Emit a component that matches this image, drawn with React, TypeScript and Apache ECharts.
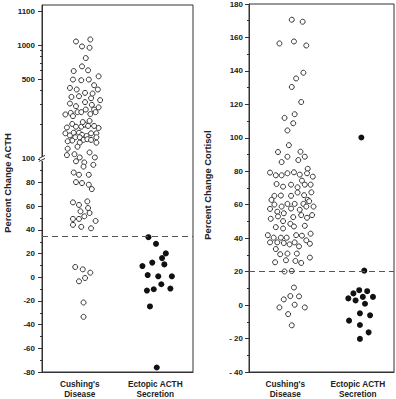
import React, { useEffect, useRef } from "react";
import * as echarts from "echarts";

const categories = ["Cushing's\nDisease", "Ectopic ACTH\nSecretion"];

// [horizontal jitter position (category units: 0..2), percent change]
const acthCushing: [number, number][] = [
  [0.45, 1011], [0.64, 1017], [0.53, 976], [0.63, 951], [0.58, 771], [0.42, 593], [0.53, 652], [0.61, 602],
  [0.41, 499], [0.52, 492], [0.62, 499], [0.75, 533], [0.37, 421], [0.46, 408], [0.69, 445], [0.74, 408],
  [0.39, 351], [0.49, 356], [0.57, 381], [0.65, 342], [0.77, 329], [0.67, 376], [0.37, 307], [0.45, 291],
  [0.57, 316], [0.66, 299], [0.75, 284], [0.69, 272], [0.31, 246], [0.38, 254], [0.47, 258], [0.52, 258],
  [0.58, 272], [0.64, 248], [0.71, 258], [0.41, 238], [0.33, 189], [0.40, 203], [0.45, 192], [0.52, 192],
  [0.57, 200], [0.63, 216], [0.61, 195], [0.69, 195], [0.75, 187], [0.54, 211], [0.31, 168], [0.37, 161],
  [0.42, 170], [0.49, 170], [0.53, 163], [0.59, 159], [0.65, 168], [0.72, 168], [0.72, 155], [0.44, 155],
  [0.50, 155], [0.40, 145], [0.34, 143], [0.55, 147], [0.60, 149], [0.65, 147], [0.72, 139], [0.50, 139],
  [0.47, 128], [0.34, 123], [0.33, 108], [0.43, 110], [0.50, 103], [0.63, 114], [0.70, 103], [0.45, 98],
  [0.56, 97], [0.68, 95], [0.55, 93.5], [0.42, 88.5], [0.49, 86.6], [0.62, 86.6], [0.45, 80.4], [0.53, 79.6],
  [0.62, 78.2], [0.66, 74.5], [0.60, 64.1], [0.41, 63.3], [0.49, 61.1], [0.61, 58.5], [0.51, 55.7], [0.63, 54.3],
  [0.56, 51.5], [0.41, 49.3], [0.49, 49.3], [0.71, 47.6], [0.41, 44.3], [0.52, 42.6], [0.65, 41.4],
  [0.44, 8.7], [0.54, 6.7], [0.64, 3.9], [0.49, -3.4], [0.57, -0.6], [0.55, -21.3], [0.55, -33.4],
];

const acthEctopic: [number, number][] = [
  [1.41, 33.9], [1.51, 28.3], [1.64, 20.2], [1.59, 16.2], [1.46, 12.4], [1.62, 10.9], [1.33, 9.5], [1.40, 1.9],
  [1.54, 0.8], [1.72, 0.8], [1.58, -5.9], [1.39, -11.2], [1.48, -10.1], [1.70, -9.5], [1.43, -24.6], [1.52, -76.2],
];

const cortisolCushing: [number, number][] = [
  [0.59, 170.6], [0.74, 169.4], [0.42, 156.4], [0.62, 157.6], [0.79, 155.2], [0.75, 138.9], [0.65, 135.5],
  [0.59, 130.4], [0.72, 121.4], [0.63, 114.1], [0.49, 111.9], [0.61, 108.7], [0.53, 104.4], [0.55, 95.6],
  [0.40, 91.5], [0.71, 91.7], [0.53, 88.7], [0.77, 88.7], [0.45, 85.5], [0.68, 86.7], [0.81, 81.5],
  [0.29, 79.2], [0.37, 77.6], [0.45, 77.6], [0.53, 78.8], [0.62, 79.4], [0.70, 78], [0.80, 78.8], [0.88, 76.8],
  [0.73, 74.4], [0.38, 72.4], [0.47, 70.8], [0.58, 72], [0.67, 70.4], [0.77, 72], [0.85, 72], [0.67, 67.3],
  [0.86, 67.4], [0.35, 65.3], [0.44, 65.5], [0.58, 65.3], [0.76, 65.7], [0.31, 62.9], [0.81, 62.9],
  [0.35, 60.1], [0.45, 58.9], [0.53, 60.5], [0.63, 60.5], [0.75, 60.5], [0.83, 62.1], [0.29, 57.5], [0.39, 55.8],
  [0.48, 54.9], [0.58, 57.7], [0.70, 57], [0.79, 58.9], [0.89, 58.9], [0.30, 51.6], [0.40, 53], [0.47, 50.2],
  [0.61, 52.6], [0.72, 53.8], [0.80, 52.2], [0.87, 53.8], [0.37, 46.6], [0.47, 45.8], [0.57, 48.6], [0.62, 47],
  [0.77, 47.4], [0.85, 42.7], [0.26, 41.8], [0.34, 40.3], [0.44, 40.3], [0.52, 40.3], [0.65, 41.8], [0.73, 41.5],
  [0.79, 38.7], [0.29, 37.5], [0.39, 37.5], [0.48, 37.1], [0.56, 36.3], [0.63, 37.5], [0.69, 35.1], [0.84, 36.7],
  [0.37, 33.5], [0.43, 30.4], [0.53, 30.8], [0.66, 30.8], [0.84, 28.4], [0.36, 25.6], [0.51, 26.8], [0.64, 26.4],
  [0.72, 25.2], [0.49, 20.1], [0.59, 20.4],
  [0.62, 10.5], [0.48, 3.4], [0.57, 5.4], [0.69, 5.2], [0.42, -1.4], [0.63, 0.2], [0.77, -1.4], [0.54, -5.4], [0.59, -12.1],
];

const cortisolEctopic: [number, number][] = [
  [1.55, 100.2], [1.59, 20.6], [1.44, 7], [1.52, 8.9], [1.63, 8.3], [1.37, 4], [1.47, 2.8], [1.57, 4.9],
  [1.71, 4.9], [1.60, 0.8], [1.53, -4.9], [1.67, -6.1], [1.38, -9.3], [1.53, -11.9], [1.65, -16.3], [1.53, -20.2],
];

const acthTickLabels = [-80, -60, -40, -20, 0, 20, 40, 60, 80, 100, 500, 1000, 1100];
const acthMinorTicks = [-70, -50, -30, -10, 10, 30, 50, 70, 90, 200, 300, 400, 600, 700, 800, 900];
const acthThreshold = 35;
const cortisolThreshold = 20;
const cortisolRange = [-40, 180];

// broken ACTH axis: linear up to 100, logarithmic 100..1000, compressed above
function toDisplay(v: number): number {
  if (v <= 100) return v;
  if (v <= 1000) return 100 + 96 * Math.log10(v / 100);
  return 196 + (v - 1000) * 0.288;
}

const FONT = "'Liberation Sans', Arial, Helvetica, sans-serif";
const INK = "#222";

export default function App() {
  const ref = useRef<HTMLDivElement>(null);

  useEffect(() => {
    document.body.style.margin = "0";
    if (!ref.current) return;
    const chart = echarts.init(ref.current, null, { renderer: "svg" });

    const labelStyle = { fontSize: 8, fontWeight: "bold" as const, color: INK, fontFamily: FONT };
    const catLabel = {
      show: true,
      customValues: [0.5, 1.5],
      formatter: (v: number) => (v < 1 ? categories[0] : categories[1]),
      fontSize: 8.25,
      fontWeight: "bold" as const,
      color: INK,
      fontFamily: FONT,
      lineHeight: 9.5,
      margin: 8,
    };
    const acthLabelFor = (d: number) => {
      let best = acthTickLabels[0];
      let bd = Infinity;
      for (const t of acthTickLabels) {
        const dd = Math.abs(toDisplay(t) - d);
        if (dd < bd) { bd = dd; best = t; }
      }
      return String(best);
    };
    const dashed = (y: number) => ({
      silent: true,
      symbol: ["none", "none"],
      label: { show: false },
      lineStyle: { type: [6, 4], color: "#555", width: 1, opacity: 1 },
      data: [{ yAxis: y }],
    });
    const openCircle = { color: "#fff", borderColor: "#333", borderWidth: 1, opacity: 1 };
    const filled = { color: "#111", opacity: 1 };
    const xAxisBase = {
      type: "value", min: 0, max: 2, splitLine: { show: false }, axisTick: { show: false },
      axisLine: { show: true, onZero: false, lineStyle: { color: "#333" } }, axisLabel: catLabel,
    };

    chart.setOption({
      animation: false,
      grid: [
        { left: 42, top: 5, width: 151, height: 368, show: true, borderColor: "#333", borderWidth: 1 },
        { left: 249, top: 3, width: 145, height: 370, show: true, borderColor: "#333", borderWidth: 1 },
      ],
      xAxis: [
        { ...xAxisBase, gridIndex: 0 },
        { ...xAxisBase, gridIndex: 1 },
      ],
      yAxis: [
        {
          type: "value", gridIndex: 0, position: "left", min: -80, max: 230, splitLine: { show: false },
          axisLine: { show: true, onZero: false, lineStyle: { color: "#333" } },
          axisTick: { show: true, length: 4, customValues: acthTickLabels.map(toDisplay), lineStyle: { color: "#333" } },
          axisLabel: { ...labelStyle, margin: 7, customValues: acthTickLabels.map(toDisplay), formatter: acthLabelFor },
        },
        {
          type: "value", gridIndex: 0, position: "left", min: -80, max: 230, splitLine: { show: false },
          axisLine: { show: false, onZero: false },
          axisTick: { show: true, length: 2, customValues: acthMinorTicks.map(toDisplay), lineStyle: { color: "#333" } },
          axisLabel: { show: false },
        },
        {
          type: "value", gridIndex: 1, position: "left", min: cortisolRange[0], max: cortisolRange[1], interval: 20,
          splitLine: { show: false },
          axisLine: { show: true, onZero: false, lineStyle: { color: "#333" } },
          axisTick: { show: true, length: 4, lineStyle: { color: "#333" } },
          minorTick: { show: true, splitNumber: 2, length: 2, lineStyle: { color: "#333" } },
          axisLabel: { ...labelStyle, margin: 6, formatter: (v: number) => (v < 0 ? "- " + Math.abs(v) : String(v)) },
        },
      ],
      series: [
        { type: "scatter", xAxisIndex: 0, yAxisIndex: 0, symbolSize: 5, itemStyle: openCircle,
          data: acthCushing.map(([x, v]) => [x, toDisplay(v)]) },
        { type: "scatter", xAxisIndex: 0, yAxisIndex: 0, symbolSize: 6, itemStyle: filled,
          data: acthEctopic.map(([x, v]) => [x, toDisplay(v)]), markLine: dashed(toDisplay(acthThreshold)) },
        { type: "scatter", xAxisIndex: 1, yAxisIndex: 2, symbolSize: 5, itemStyle: openCircle,
          data: cortisolCushing },
        { type: "scatter", xAxisIndex: 1, yAxisIndex: 2, symbolSize: 6, itemStyle: filled,
          data: cortisolEctopic, markLine: dashed(cortisolThreshold) },
      ],
    });

    const bx = chart.convertToPixel({ xAxisIndex: 0 }, 0) as number;
    const by = chart.convertToPixel({ yAxisIndex: 0 }, toDisplay(100)) as number;
    chart.setOption({
      graphic: [
        { type: "text", x: 7, y: 183, rotation: Math.PI / 2,
          style: { text: "Percent Change ACTH", fontSize: 9.4, fontWeight: "bold", fill: INK, fontFamily: FONT, align: "center", verticalAlign: "middle" } },
        { type: "text", x: 207, y: 185, rotation: Math.PI / 2,
          style: { text: "Percent Change Cortisol", fontSize: 9.4, fontWeight: "bold", fill: INK, fontFamily: FONT, align: "center", verticalAlign: "middle" } },
        { type: "rect", shape: { x: bx - 2, y: by - 2, width: 4, height: 4 }, style: { fill: "#fff" }, z: 100 },
        { type: "line", shape: { x1: bx - 3, y1: by - 0.5, x2: bx + 3, y2: by - 3.5 }, style: { stroke: "#333", lineWidth: 1 }, z: 101 },
        { type: "line", shape: { x1: bx - 3, y1: by + 2.5, x2: bx + 3, y2: by - 0.5 }, style: { stroke: "#333", lineWidth: 1 }, z: 101 },
      ],
    });

    return () => chart.dispose();
  }, []);

  return <div ref={ref} style={{ width: 396, height: 399 }} />;
}
